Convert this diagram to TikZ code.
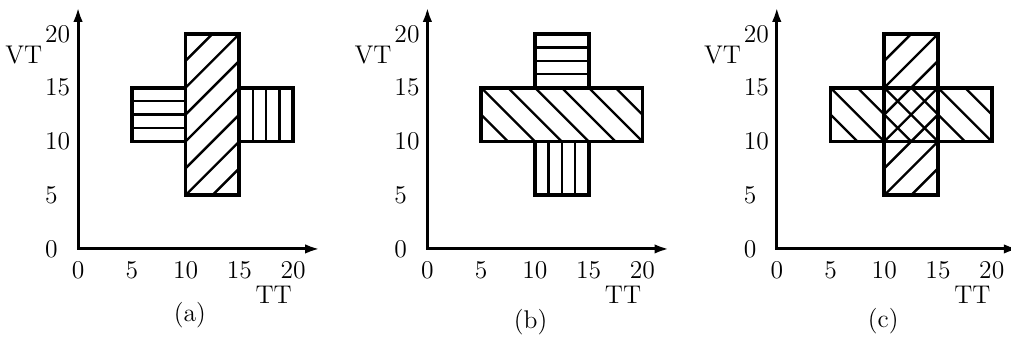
\documentclass[tikz,border=0pt]{standalone}
\usepackage{tikz}
\usetikzlibrary{arrows.meta,positioning}
\tikzset{
  cp-axis/.style={{Latex[length=7.5pt,width=4.8pt]}-{Latex[length=7.5pt,width=4.8pt]},
    line width=1.5pt},
  cp-frame/.style={line width=1.9pt, line join=miter},
  cp-hatch/.style={line width=1.2pt},
  cp-text/.style={font=\fontsize{13}{15}\selectfont, inner sep=0pt},
  cp-tick/.style={cp-text},
  cp-name/.style={cp-text}
}

\begin{document}
\begin{tikzpicture}[x=0.192cm, y=0.192cm]
\useasboundingbox (-7.26,-8.19) rectangle (86.79,23.16);

% axes, ticks and captions of the three panels
\foreach \p/\sx/\cx/\cy in {a/0/10.4/-6.2, b/32.5/9.6/-6.8, c/65/9.9/-6.7} {
  \begin{scope}[shift={(\sx,0)}]
    \coordinate (o\p) at (0,0);
    \coordinate (xt\p) at (22.5,0);
    \coordinate (yt\p) at (0,22.5);
    \draw[cp-axis] (yt\p) -- (o\p) -- (xt\p);
    \foreach \v in {0,5,10,15,20} {
      \node[cp-tick] (tx\p\v) at (\v,-1.95) {\v};
      \node[cp-tick, anchor=west] (ty\p\v) at (-3.1,\v) {\v};
    }
    \node[cp-name, anchor=east] (vt\p) at (-3.3,18.05) {VT};
    \node[cp-name] (tt\p) at (18.2,-4.3) {TT};
    \node[cp-name] (cap\p) at (\cx,\cy) {(\p)};
  \end{scope}
}

% (a)
\begin{scope}
  \foreach \h in {11.25,12.5,13.75}
    \draw[cp-hatch] (5,\h) -- (10,\h);
  \foreach \h in {16.25,17.5,18.75}
    \draw[cp-hatch] (\h,10) -- (\h,15);
  \begin{scope}
    \clip (10,5) rectangle (15,20);
    \foreach \c in {-7.5,-5,...,7.5}
      \draw[cp-hatch] (9,9+\c) -- (16,16+\c);
  \end{scope}
  \draw[cp-frame] (5,10) rectangle (10,15);
  \draw[cp-frame] (15,10) rectangle (20,15);
  \draw[cp-frame] (10,5) rectangle (15,20);
\end{scope}

% (b)
\begin{scope}[shift={(32.5,0)}]
  \foreach \h in {16.25,17.5,18.75}
    \draw[cp-hatch] (10,\h) -- (15,\h);
  \foreach \h in {11.25,12.5,13.75}
    \draw[cp-hatch] (\h,5) -- (\h,10);
  \begin{scope}
    \clip (5,10) rectangle (20,15);
    \foreach \c in {17.5,20,...,32.5}
      \draw[cp-hatch] (\c-16,16) -- (\c-9,9);
  \end{scope}
  \draw[cp-frame] (10,15) rectangle (15,20);
  \draw[cp-frame] (10,5) rectangle (15,10);
  \draw[cp-frame] (5,10) rectangle (20,15);
\end{scope}

% (c)
\begin{scope}[shift={(65,0)}]
  \begin{scope}
    \clip (10,5) rectangle (15,20);
    \foreach \c in {-7.5,-5,...,7.5}
      \draw[cp-hatch] (9,9+\c) -- (16,16+\c);
  \end{scope}
  \begin{scope}
    \clip (5,10) rectangle (20,15);
    \foreach \c in {17.5,20,...,32.5}
      \draw[cp-hatch] (\c-16,16) -- (\c-9,9);
  \end{scope}
  \draw[cp-frame] (10,5) rectangle (15,20);
  \draw[cp-frame] (5,10) rectangle (20,15);
\end{scope}
\end{tikzpicture}
\end{document}
